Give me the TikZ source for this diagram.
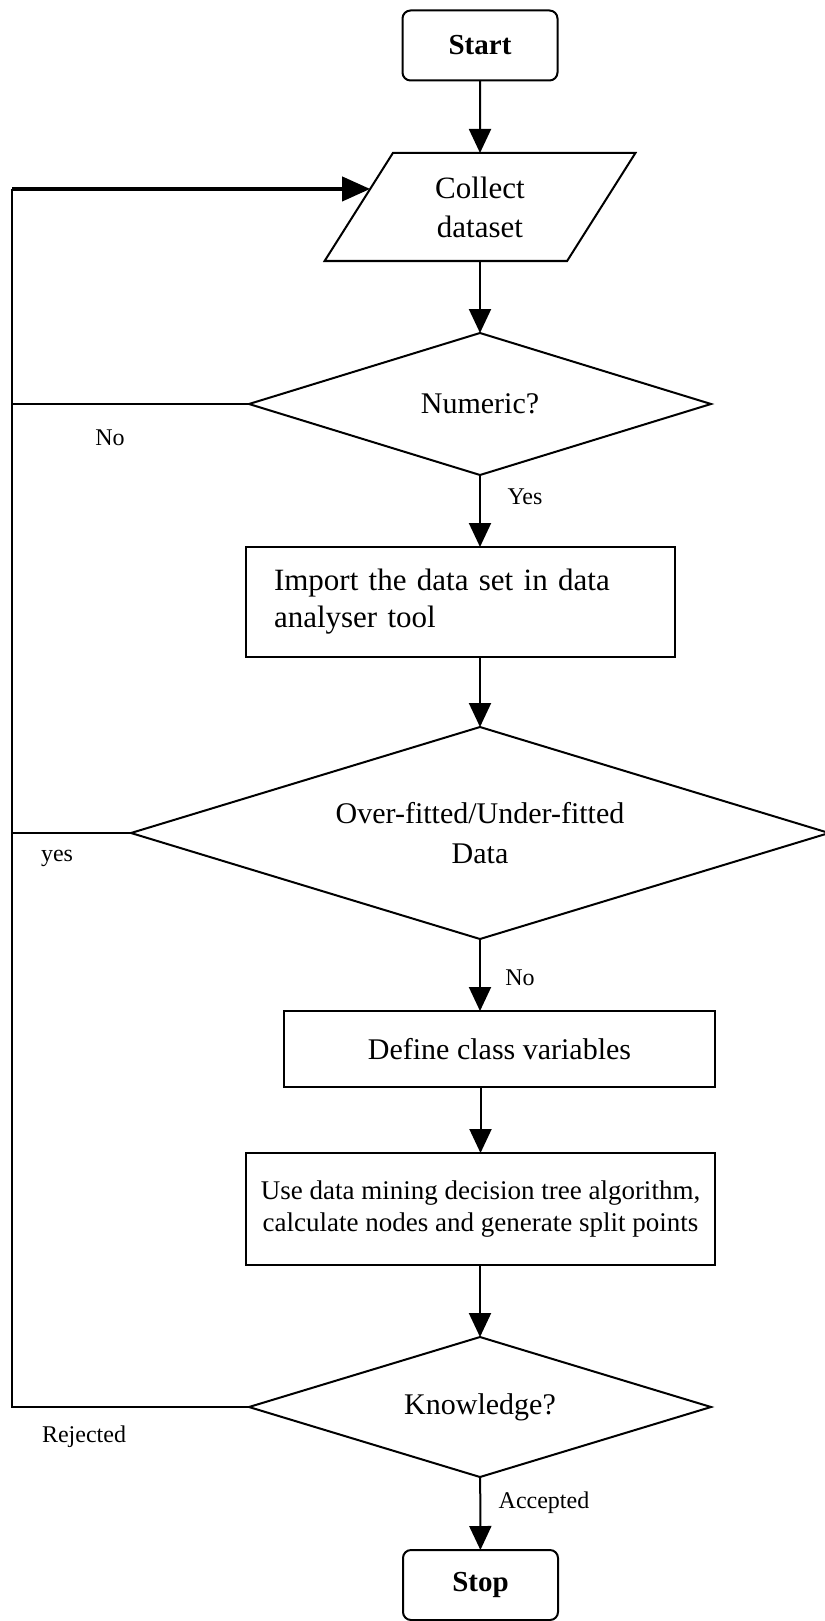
\documentclass[tikz,border=0pt]{standalone}
\usepackage{fontspec}
\setmainfont{Liberation Serif}
\usetikzlibrary{shapes.geometric,arrows.meta,calc}

\begin{document}
\begin{tikzpicture}[x=1pt,y=-1pt,
  every node/.style={inner sep=0pt, outer sep=0pt},
  term/.style={draw, line width=2pt, rounded corners=8pt, minimum width=155pt, minimum height=70pt, font=\fontsize{29}{34}\selectfont\bfseries},
  io/.style={draw, line width=2pt, trapezium, trapezium left angle=60, trapezium right angle=120, trapezium stretches=true, minimum width=311pt, minimum height=108pt, align=center, font=\fontsize{31}{39}\selectfont},
  proc/.style={draw, line width=2pt, rectangle, align=center, font=\fontsize{30}{36}\selectfont},
  test/.style={draw, line width=2pt, diamond, aspect=3, align=center, font=\fontsize{30}{40}\selectfont},
  lbl/.style={font=\fontsize{24}{28}\selectfont},
  arr/.style={line width=2pt, -{Triangle[length=24pt,width=22pt]}},
  loopline/.style={line width=2pt},
  back/.style={line width=4pt, -{Triangle[length=28pt,width=24pt]}}]
\useasboundingbox (0,0) rectangle (824,1621);
\node [term] (start) at (480,45.5) {Start};
\node [io] (collect) at (480,207) {Collect\\dataset};
\node [test, minimum width=462pt, minimum height=142pt] (numeric) at (480,404) {Numeric?};
\node [proc, text width=373pt, align=left, inner xsep=28pt, minimum height=110pt, font=\fontsize{31}{37}\selectfont] (import) at (460.5,602) {Import the data set in data\\analyser tool};
\node [test, minimum width=698pt, minimum height=212pt] (over) at (480,833) {Over-fitted/Under-fitted\\Data};
\node [proc, minimum width=431pt, minimum height=76pt] (define) at (499.5,1049) {Define class variables};
\node [proc, minimum width=469pt, minimum height=112pt, font=\fontsize{27}{32}\selectfont] (use) at (480.5,1209) {Use data mining decision tree algorithm,\\calculate nodes and generate split points};
\node [test, minimum width=462pt, minimum height=140pt] (know) at (480,1407) {Knowledge?};
\node [term] (stop) at (480.5,1585) {Stop};
% branch labels
\node [lbl] (lno) at (110,438) {No};
\node [lbl] (lyes) at (525,497) {Yes};
\node [lbl] (lyes2) at (57,858) {yes};
\node [lbl] (lno2) at (520,978) {No};
\node [lbl] (lrej) at (84,1437) {Rejected};
\node [lbl] (lacc) at (544,1503) {Accepted};
% loop back to the data
\coordinate (lft) at (12,0);
\coordinate (cin) at ($(collect.top left corner)!0.333!(collect.bottom left corner)$);
\draw [arr] (start) -- (collect);
\draw [arr] (collect) -- (numeric);
\draw [arr] (numeric.south) -- (numeric.south |- import.north);
\draw [arr] (import.south -| over.north) -- (over.north);
\draw [arr] (over.south) -- (over.south |- define.north);
\draw [arr] (define.south -| use.north) -- (use.north);
\draw [arr] (use.south -| know.north) -- (know.north);
\draw [arr] (know) -- (stop);
\draw [loopline] (know.west) -- (know.west -| lft) -- (cin -| lft);
\draw [loopline] (numeric.west) -- (numeric.west -| lft);
\draw [loopline] (over.west) -- (over.west -| lft);
\draw [back] (cin -| lft) -- (cin);
\end{tikzpicture}
\end{document}
